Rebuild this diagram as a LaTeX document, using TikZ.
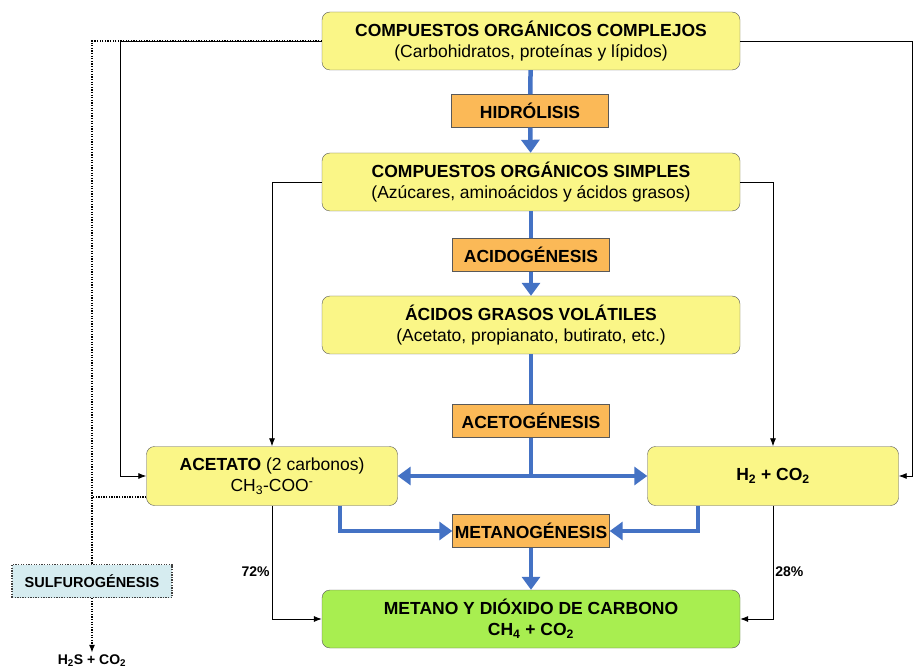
\documentclass[tikz,border=0pt]{standalone}
\usepackage{fontspec}
\setmainfont{Liberation Sans}
\usetikzlibrary{arrows.meta, positioning}
\definecolor{boxyellow}{RGB}{250,246,135}
\definecolor{stageorange}{RGB}{251,185,87}
\definecolor{endgreen}{RGB}{168,238,80}
\definecolor{sulfblue}{RGB}{214,236,240}
\definecolor{flowblue}{RGB}{68,114,196}
\tikzset{%
  base/.style = {rectangle, draw = black!65, text centered, align = center, inner sep = 0pt, font = \fontsize{17.5}{21}\selectfont},
  compound/.style = {base, rounded corners = 8pt, fill = boxyellow, minimum width = 418pt, minimum height = 58pt},
  product/.style = {compound, minimum width = 251pt, minimum height = 59pt},
  final/.style = {compound, fill = endgreen},
  stage/.style = {base, fill = stageorange, minimum width = 157pt, minimum height = 33pt, font = \fontsize{17.5}{21}\selectfont\bfseries},
  sulfur/.style = {stage, fill = sulfblue, draw = black!75, dash pattern = on 1.3pt off 1.3pt, line width = 1.3pt, minimum width = 160pt, font = \fontsize{14.5}{17}\selectfont\bfseries},
  pct/.style = {font = \fontsize{14}{16}\selectfont\bfseries, inner sep = 2pt},
  flow/.style = {-, line width = 4.5pt, draw = flowblue},
  flowarrow/.style = {flow, -{Triangle[width = 18pt, length = 13pt]}},
  feed/.style = {->, line width = 0.8pt},
  sulfline/.style = {-, dash pattern = on 1.3pt off 1.3pt, line width = 1.3pt}
}

\begin{document}
\begin{tikzpicture}[x = 1pt, y = -1pt, >={Latex[width = 6pt, length = 8pt]}]
    \useasboundingbox (0,0) rectangle (914,671);
    % main chain
    \node at (531,41) (Complex) [compound] {\textbf{COMPUESTOS ORGÁNICOS COMPLEJOS}\\(Carbohidratos, proteínas y lípidos)};
    \node at (530,111) (Hydrolysis) [stage] {HIDRÓLISIS};
    \node at (531,182) (Simple) [compound] {\textbf{COMPUESTOS ORGÁNICOS SIMPLES}\\(Azúcares, aminoácidos y ácidos grasos)};
    \node at (531,255) (Acidogenesis) [stage] {ACIDOGÉNESIS};
    \node at (531,325) (VFA) [compound] {\textbf{ÁCIDOS GRASOS VOLÁTILES}\\(Acetato, propianato, butirato, etc.)};
    \node at (531,421) (Acetogenesis) [stage] {ACETOGÉNESIS};
    \node at (272,476) (Acetate) [product] {\textbf{ACETATO} (2 carbonos)\\CH\textsubscript{3}-COO\textsuperscript{-}};
    \node at (773,476) (Hydrogen) [product] {\textbf{H\textsubscript{2} + CO\textsubscript{2}}};
    \node at (531,531) (Methanogenesis) [stage] {METANOGÉNESIS};
    \node at (531,619) (Methane) [final] {\textbf{METANO Y DIÓXIDO DE CARBONO}\\\textbf{CH\textsubscript{4} + CO\textsubscript{2}}};
    \node at (92,581) (Sulfur) [sulfur] {SULFUROGÉNESIS};
    \node at (92,661) (SulfurOut) [pct] {H\textsubscript{2}S + CO\textsubscript{2}};
    \coordinate (Split) at (531,476);
    \coordinate (LeftBus) at (120,476);
    \coordinate (RightBus) at (912,476);
    \coordinate (SulfCorner) at (92,41);

    % sulfate branch
    \draw[sulfline] (Complex.west) -- (SulfCorner) -- (Sulfur.north);
    \draw[sulfline] ([yshift=-21pt]Acetate.west) -| (Sulfur.north);
    \draw[sulfline, ->] (Sulfur.south) -- (SulfurOut.north);

    % thin connectors
    \draw[feed] (Complex.west) -| (LeftBus) -- (Acetate.west);
    \draw[feed] (Complex.east) -| (RightBus) -- (Hydrogen.east);
    \draw[feed] (Simple.west) -| (Acetate.north);
    \draw[feed] (Simple.east) -| (Hydrogen.north);
    \draw[feed] (Acetate.south) |- node[pct, left, pos = 0.29] {72\%} (Methane.west);
    \draw[feed] (Hydrogen.south) |- node[pct, right, pos = 0.29] {28\%} (Methane.east);

    % blue process flow
    \draw[flow] (Complex) -- (Hydrolysis);
    \draw[flowarrow] (Hydrolysis) -- (Simple);
    \draw[flow] (Simple) -- (Acidogenesis);
    \draw[flowarrow] (Acidogenesis) -- (VFA);
    \draw[flow] (VFA) -- (Acetogenesis);
    \draw[flow] (Acetogenesis) -- ([yshift=-2.25pt]Split);
    \draw[flowarrow] (Split) -- (Acetate);
    \draw[flowarrow] (Split) -- (Hydrogen);
    \draw[flowarrow] ([xshift=68pt]Acetate.south) |- (Methanogenesis.west);
    \draw[flowarrow] ([xshift=-75pt]Hydrogen.south) |- (Methanogenesis.east);
    \draw[flowarrow] (Methanogenesis) -- (Methane);
\end{tikzpicture}
\end{document}
